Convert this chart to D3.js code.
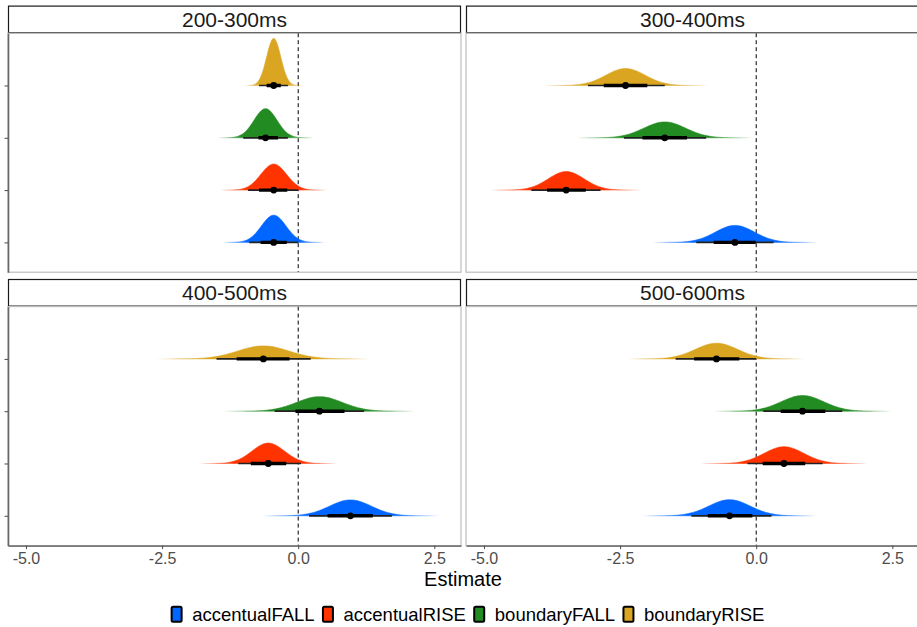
<!DOCTYPE html>
<html><head><meta charset="utf-8">
<script src="https://cdn.jsdelivr.net/npm/d3@7"></script>
<style>
body{margin:0;background:#fff;}
svg text{font-family:"Liberation Sans",Arial,Helvetica,sans-serif;}
</style>
</head><body>
<svg id="chart" width="917" height="627"></svg>
<script>
// ---------------- data ----------------
const windows = ["200-300ms", "300-400ms", "400-500ms", "500-600ms"];
const conditions = ["accentualFALL", "accentualRISE", "boundaryFALL", "boundaryRISE"];
const colors = ["#0066FF", "#FF3300", "#228B22", "#DAA520"];
const xTicks = [-5.0, -2.5, 0.0, 2.5];
const xLabel = "Estimate";

// rows = windows, columns = conditions (accentualFALL, accentualRISE, boundaryFALL, boundaryRISE)
const estimate = [
  [-0.45, -0.45, -0.60, -0.45],
  [-0.39, -3.49, -1.68, -2.40],
  [ 0.96, -0.55,  0.39, -0.64],
  [-0.49,  0.51,  0.85, -0.73]
];
const spread = [
  [0.225, 0.235, 0.21, 0.13],
  [0.36,  0.33,  0.385, 0.36],
  [0.385, 0.30,  0.42, 0.47],
  [0.38,  0.365, 0.39, 0.39]
];
const lo66 = [
  [-0.69, -0.72, -0.73, -0.58],
  [-0.78, -3.84, -2.09, -2.80],
  [ 0.54, -0.87, -0.05, -1.13],
  [-0.89,  0.12,  0.45, -1.14]
];
const hi66 = [
  [-0.21, -0.20, -0.37, -0.32],
  [-0.01, -3.13, -1.27, -2.00],
  [ 1.37, -0.22,  0.85, -0.16],
  [-0.07,  0.90,  1.27, -0.31]
];
const lo95 = [
  [-0.90, -0.92, -1.01, -0.72],
  [-1.10, -4.13, -2.43, -3.09],
  [ 0.20, -1.10, -0.43, -1.50],
  [-1.19, -0.16,  0.13, -1.48]
];
const hi95 = [
  [ 0.00,  0.00, -0.19, -0.19],
  [ 0.32, -2.86, -0.92, -1.68],
  [ 1.72,  0.05,  1.21,  0.23],
  [ 0.28,  1.22,  1.58,  0.00]
];

// ---------------- layout ----------------
const svg = d3.select("#chart");
const panelW = 453, panelH = 239, stripH = 27.6;
const colX = [8, 466];
const rowTop = [5.6, 279];
const xDomain = [-5.33, 2.99];
const yDomain = [0.43, 5.0];
const tailSd = 4.2;

const x = d3.scaleLinear().domain(xDomain).range([0, panelW]);
const y = d3.scaleLinear().domain(yDomain).range([panelH, 0]);

const pdf = (v, m, s) => Math.exp(-0.5 * ((v - m) / s) ** 2) / (s * Math.sqrt(2 * Math.PI));
const maxPdf = d3.max(spread.flat(), s => 1 / (s * Math.sqrt(2 * Math.PI)));
const hScale = d3.scaleLinear().domain([0, maxPdf]).range([0, 0.9]);

const defs = svg.append("defs");

windows.forEach((w, wi) => {
  const col = wi % 2, row = Math.floor(wi / 2);
  const px = colX[col], sy = rowTop[row], py = sy + stripH;

  // strip
  const strip = svg.append("g").attr("transform", `translate(${px},${sy})`);
  strip.append("rect").attr("x", 0.5).attr("y", 0.5).attr("width", panelW - 1).attr("height", stripH - 1)
    .attr("fill", "#fff").attr("stroke", "#1a1a1a").attr("stroke-width", 1.2);
  strip.append("text").attr("x", panelW / 2).attr("y", stripH / 2 + 7.5)
    .attr("text-anchor", "middle").attr("font-size", "21px").attr("fill", "#1a1a1a").text(w);

  const g = svg.append("g").attr("transform", `translate(${px},${py})`);
  const clipId = "clip" + wi;
  defs.append("clipPath").attr("id", clipId).append("rect")
    .attr("width", panelW).attr("height", panelH);

  // panel border
  g.append("rect").attr("x", 0).attr("y", 0).attr("width", panelW).attr("height", panelH)
    .attr("fill", "none").attr("stroke", "#bdbdbd").attr("stroke-width", 1.2);

  const plot = g.append("g").attr("clip-path", `url(#${clipId})`);

  // dashed zero line
  plot.append("line").attr("x1", x(0)).attr("x2", x(0)).attr("y1", 0).attr("y2", panelH)
    .attr("stroke", "#000").attr("stroke-width", 1).attr("stroke-dasharray", "4,3");

  conditions.forEach((c, ci) => {
    const m = estimate[wi][ci], s = spread[wi][ci];
    const base = ci + 1;
    const xs = d3.range(0, 201).map(k => m - tailSd * s + k * (2 * tailSd * s / 200));
    const gradId = `grad${wi}_${ci}`;
    const grad = defs.append("linearGradient").attr("id", gradId)
      .attr("gradientUnits", "userSpaceOnUse")
      .attr("x1", x(m - tailSd * s)).attr("x2", x(m + tailSd * s)).attr("y1", 0).attr("y2", 0);
    [[0, 0], [0.25, 1], [0.75, 1], [1, 0]].forEach(([o, a]) =>
      grad.append("stop").attr("offset", o).attr("stop-color", colors[ci]).attr("stop-opacity", a));

    const area = d3.area()
      .x(v => x(v))
      .y0(y(base))
      .y1(v => y(base + hScale(pdf(v, m, s))))
      .curve(d3.curveBasis);
    plot.append("path").datum(xs).attr("d", area)
      .attr("fill", `url(#${gradId})`)
      .attr("stroke", `url(#${gradId})`).attr("stroke-width", 0.6);

    // intervals
    plot.append("line").attr("x1", x(lo95[wi][ci])).attr("x2", x(hi95[wi][ci]))
      .attr("y1", y(base)).attr("y2", y(base))
      .attr("stroke", "#222").attr("stroke-width", 1.7);
    plot.append("line").attr("x1", x(lo66[wi][ci])).attr("x2", x(hi66[wi][ci]))
      .attr("y1", y(base)).attr("y2", y(base))
      .attr("stroke", "#000").attr("stroke-width", 3.4);
    plot.append("circle").attr("cx", x(m)).attr("cy", y(base)).attr("r", 3.4).attr("fill", "#000");
  });

  // left axis (left column only)
  if (col === 0) {
    const ya = g.append("g").call(d3.axisLeft(y).tickValues([1, 2, 3, 4]).tickSize(3.5).tickSizeOuter(0).tickFormat(""));
    ya.select(".domain").attr("stroke", "#666").attr("stroke-width", 1.6);
    ya.selectAll(".tick line").attr("stroke", "#4d4d4d").attr("stroke-width", 1);
  }
  // bottom axis (bottom row only)
  if (row === 1) {
    const xa = g.append("g").attr("transform", `translate(0,${panelH})`)
      .call(d3.axisBottom(x).tickValues(xTicks).tickSize(3.5).tickSizeOuter(0).tickPadding(3.2).tickFormat(d3.format(".1f")));
    xa.select(".domain").attr("stroke", "#555").attr("stroke-width", 1.4);
    xa.selectAll(".tick line").attr("stroke", "#4d4d4d").attr("stroke-width", 1);
    xa.selectAll(".tick text").attr("font-size", "16px").attr("fill", "#4d4d4d")
      .attr("font-family", '"Liberation Sans",Arial,sans-serif')
      .text(d => d3.format(".1f")(d).replace("\u2212", "-"));
  }
});

// x label
svg.append("text").attr("x", 463).attr("y", 586).attr("text-anchor", "middle")
  .attr("font-size", "20px").attr("fill", "#000").text(xLabel);

// legend
const leg = svg.append("g");
let cx = 0;
conditions.forEach((c, ci) => {
  const it = leg.append("g").attr("transform", `translate(${cx},0)`);
  it.append("rect").attr("x", 0).attr("y", 0).attr("width", 10).attr("height", 15).attr("rx", 1.5)
    .attr("fill", colors[ci]).attr("stroke", "#000").attr("stroke-width", 2);
  const t = it.append("text").attr("x", 20.6).attr("y", 14).attr("font-size", "18.5px")
    .attr("fill", "#000").text(c);
  cx += 20.6 + t.node().getComputedTextLength() + 8.3;
});
const legW = cx - 8.3;
leg.attr("transform", `translate(${468 - legW / 2},606.7)`);
</script>
</body></html>
